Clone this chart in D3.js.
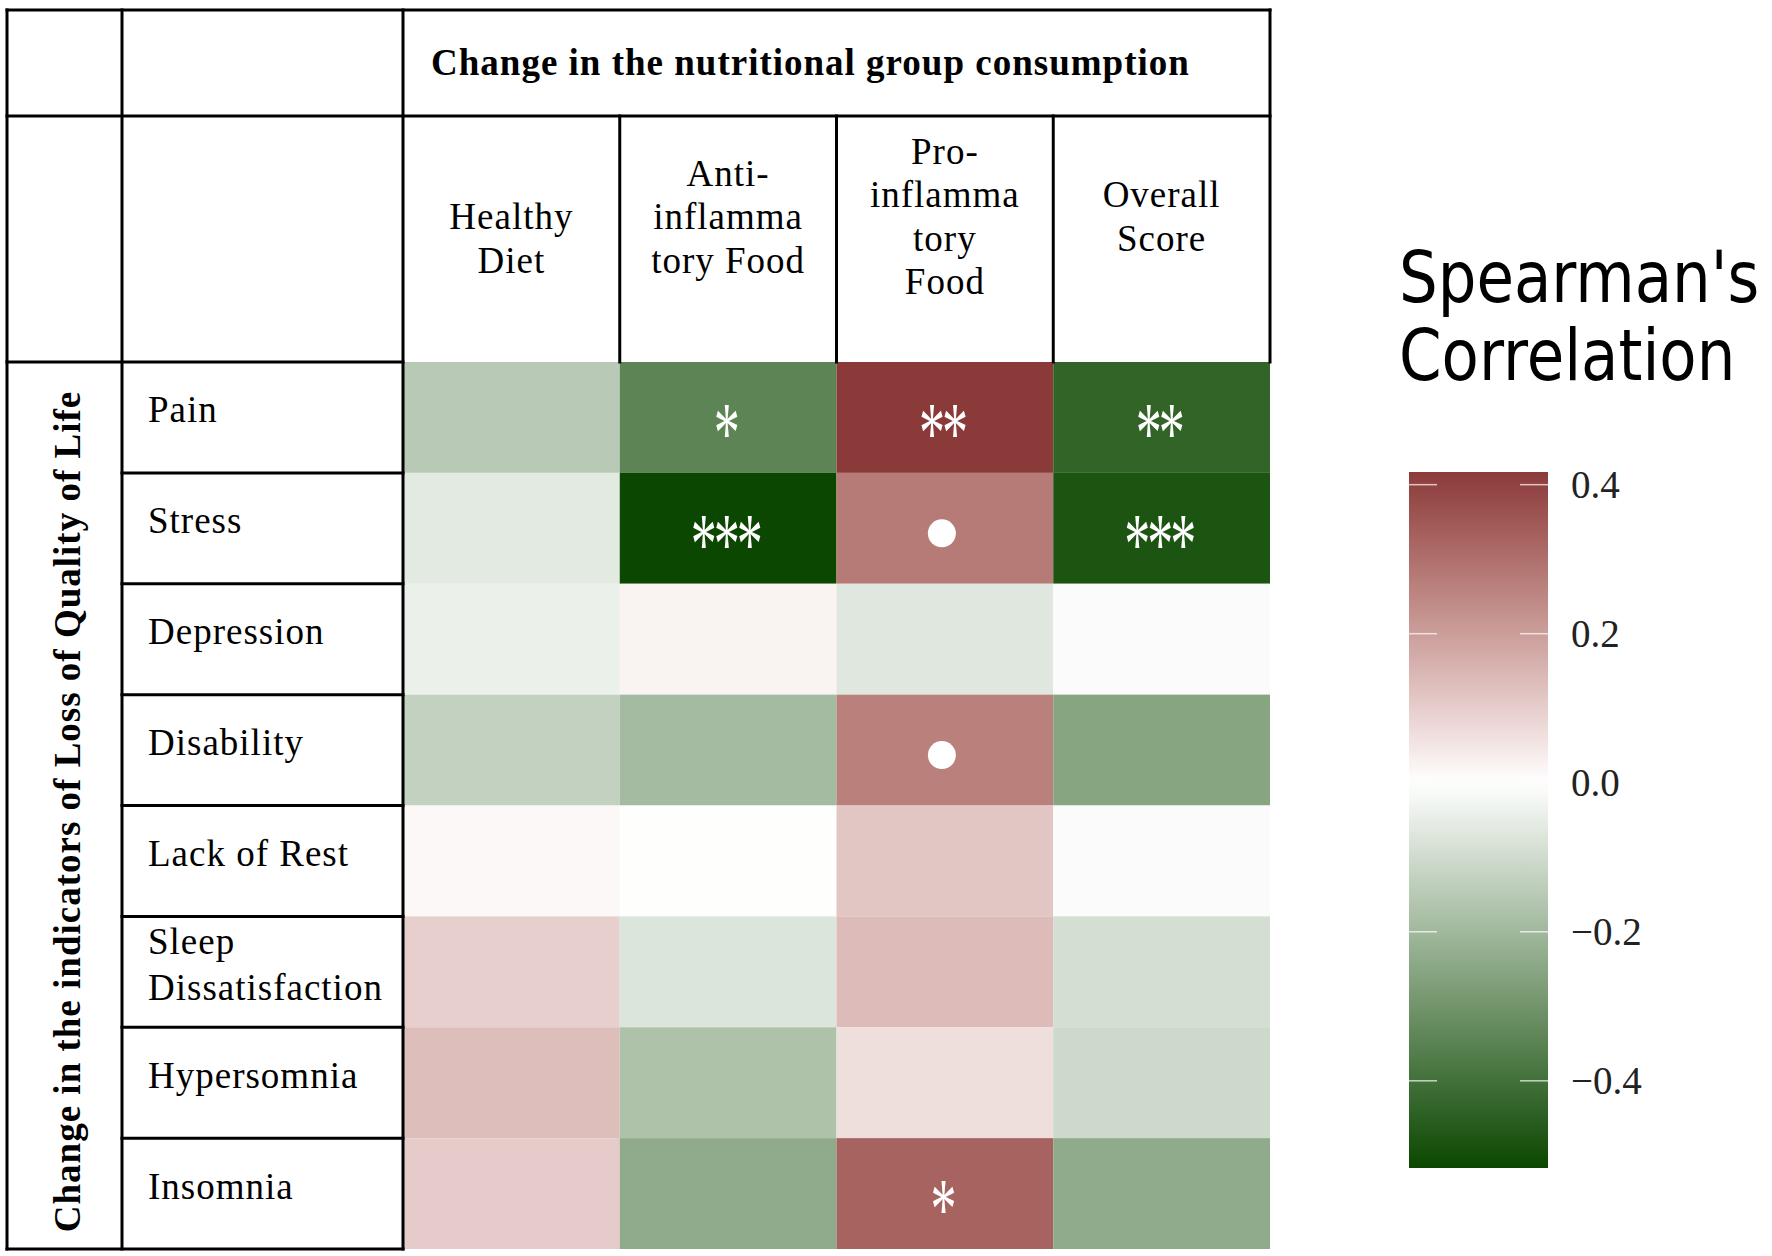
<!DOCTYPE html>
<html>
<head>
<meta charset="utf-8">
<script src="https://cdn.jsdelivr.net/npm/d3@7"></script>
<style>
  body { margin: 0; background: #fff; }
  svg { display: block; }
</style>
</head>
<body>
<svg id="chart" width="1772" height="1256"></svg>
<script>
const foodGroups = ['Healthy Diet', 'Anti-inflammatory Food', 'Pro-inflammatory Food', 'Overall Score'];
const foodHeaderLines = [['', 'Healthy', 'Diet'], ['Anti-', 'inflamma', 'tory Food'], ['Pro-', 'inflamma', 'tory', 'Food'], ['Overall', 'Score']];
const indicators = ['Pain', 'Stress', 'Depression', 'Disability', 'Lack of Rest', 'Sleep Dissatisfaction', 'Hypersomnia', 'Insomnia'];
const indicatorLines = [['Pain'], ['Stress'], ['Depression'], ['Disability'], ['Lack of Rest'], ['Sleep', 'Dissatisfaction'], ['Hypersomnia'], ['Insomnia']];

// Spearman's rho, one array per food group, in indicator order
const healthyDiet = [-0.15, -0.059, -0.041, -0.127, 0.015, 0.098, 0.133, 0.104];
const antiInflammatory = [-0.346, -0.517, 0.024, -0.19, 0.003, -0.074, -0.172, -0.235];
const proInflammatory = [0.417, 0.275, -0.067, 0.265, 0.117, 0.138, 0.067, 0.327];
const overallScore = [-0.435, -0.48, -0.01, -0.253, -0.01, -0.092, -0.107, -0.235];

// significance marks
const sigHealthy = ['', '', '', '', '', '', '', ''];
const sigAnti = ['*', '***', '', '', '', '', '', ''];
const sigPro = ['**', '•', '', '•', '', '', '', '*'];
const sigOverall = ['**', '***', '', '', '', '', '', ''];

const legendTicks = [-0.4, -0.2, 0, 0.2, 0.4];
const columnTitle = 'Change in the nutritional group consumption';
const rowTitle = 'Change in the indicators of Loss of Quality of Life';
const legendTitle = ["Spearman's", 'Correlation'];

const series = [healthyDiet, antiInflammatory, proInflammatory, overallScore];
const sigs = [sigHealthy, sigAnti, sigPro, sigOverall];

const cells = foodGroups.flatMap((group, j) => indicators.map((ind, i) => ({
    group, ind, value: series[j][i], sig: sigs[j][i]
})));

const serif = "'Liberation Serif', 'Times New Roman', serif";
const frame = {left: 7, split: 122, top: 10, headBottom: 116};

const svg = d3.select('#chart');

const x = d3.scaleBand().domain(foodGroups).range([403, 1270]);
const y = d3.scaleBand().domain(indicators).range([362, 1249]);

const [vMin, vMax] = d3.extent(cells, d => d.value);
// negative side blends in rgb, positive side in lab
const greens = d3.scaleLinear().domain([vMin, 0]).range(['#0b4700', '#ffffff']).interpolate(d3.interpolateRgb);
const reds = d3.scaleLinear().domain([0, vMax]).range(['#ffffff', '#8b3a3a']).interpolate(d3.interpolateLab);
const color = v => v < 0 ? greens(v) : reds(v);

// heatmap tiles
svg.append('g')
    .selectAll('rect')
    .data(cells)
    .join('rect')
        .attr('x', d => x(d.group))
        .attr('y', d => y(d.ind))
        .attr('width', x.bandwidth())
        .attr('height', y.bandwidth())
        .attr('fill', d => color(d.value));

// significance marks
const marks = svg.append('g').selectAll('g')
    .data(cells.filter(d => d.sig !== ''))
    .join('g')
        .attr('transform', d => `translate(${x(d.group) + x.bandwidth() / 2 - 3}, ${y(d.ind) + y.bandwidth() / 2 + 5})`);

marks.filter(d => d.sig === '•')
    .append('circle')
        .attr('r', 14)
        .attr('fill', '#fff');

marks.filter(d => d.sig !== '•')
    .append('g')
        .attr('transform', 'scale(1,1.65)')
    .append('text')
        .attr('y', 24)
        .attr('text-anchor', 'middle')
        .attr('fill', '#fff')
        .attr('font-family', serif)
        .attr('font-size', 52)
        .attr('letter-spacing', -3)
        .text(d => d.sig);

// table grid
const x0 = x.range()[0], x1 = x.range()[1];
const y0 = y.range()[0], y1 = y.range()[1];
const segments = [
    [frame.left, frame.top, x1, frame.top],
    [frame.left, frame.headBottom, x1, frame.headBottom],
    [frame.left, y0, x0, y0],
    [frame.left, y1, x0, y1],
    [frame.left, frame.top, frame.left, y1],
    [frame.split, frame.top, frame.split, y1],
    [x0, frame.top, x0, y1],
    [x1, frame.top, x1, y0],
    ...foodGroups.slice(1).map(g => [x(g), frame.headBottom, x(g), y0]),
    ...indicators.slice(1).map(r => [frame.split, y(r), x0, y(r)])
];

svg.append('g')
    .selectAll('line')
    .data(segments)
    .join('line')
        .attr('x1', d => d[0]).attr('y1', d => d[1])
        .attr('x2', d => d[2]).attr('y2', d => d[3])
        .attr('stroke', '#000')
        .attr('stroke-width', 3)
        .attr('stroke-linecap', 'square');

// titles
svg.append('text')
    .attr('x', 431)
    .attr('y', 75)
    .attr('font-family', serif)
    .attr('font-weight', 'bold')
    .attr('font-size', 37)
    .attr('letter-spacing', 1)
    .text(columnTitle);

svg.append('text')
    .attr('transform', `translate(80, ${(y0 + y1) / 2 + 6}) rotate(-90)`)
    .attr('text-anchor', 'middle')
    .attr('font-family', serif)
    .attr('font-weight', 'bold')
    .attr('font-size', 37)
    .attr('letter-spacing', 1)
    .text(rowTitle);

// column headers
const lineH = 43.5;
const headCenter = 217;
svg.append('g')
    .selectAll('text')
    .data(foodGroups)
    .join('text')
        .attr('text-anchor', 'middle')
        .attr('font-family', serif)
        .attr('font-size', 37)
        .attr('letter-spacing', 1)
        .each(function (g, j) {
            const lines = foodHeaderLines[j];
            const first = headCenter - (lines.length - 1) / 2 * lineH + 12;
            d3.select(this).selectAll('tspan')
                .data(lines)
                .join('tspan')
                    .attr('x', x(g) + x.bandwidth() / 2)
                    .attr('y', (l, k) => first + k * lineH)
                    .text(l => l);
        });

// row labels
svg.append('g')
    .selectAll('text')
    .data(indicators)
    .join('text')
        .attr('font-family', serif)
        .attr('font-size', 37)
        .attr('letter-spacing', 1)
        .each(function (r, i) {
            const lines = indicatorLines[i];
            const first = y(r) + y.bandwidth() / 2 - (lines.length - 1) / 2 * 46 + 5;
            d3.select(this).selectAll('tspan')
                .data(lines)
                .join('tspan')
                    .attr('x', 148)
                    .attr('y', (l, k) => first + k * 46)
                    .text(l => l);
        });

// legend
const legend = {x: 1409, width: 139, top: 472, bottom: 1168};
const ly = d3.scaleLinear().domain([vMin, vMax]).range([legend.bottom, legend.top]);

const grad = svg.append('defs').append('linearGradient')
    .attr('id', 'rho-grad')
    .attr('x1', 0).attr('y1', 1).attr('x2', 0).attr('y2', 0);
grad.selectAll('stop')
    .data(d3.range(0, 1.0001, 0.02))
    .join('stop')
        .attr('offset', t => t)
        .attr('stop-color', t => color(vMin + t * (vMax - vMin)));

svg.append('rect')
    .attr('x', legend.x)
    .attr('y', legend.top)
    .attr('width', legend.width)
    .attr('height', legend.bottom - legend.top)
    .attr('fill', 'url(#rho-grad)');

const tickMarks = svg.append('g');
legendTicks.forEach(t => {
    [[legend.x, legend.x + 28], [legend.x + legend.width - 28, legend.x + legend.width]].forEach(([a, b]) => {
        tickMarks.append('line')
            .attr('x1', a).attr('x2', b)
            .attr('y1', ly(t)).attr('y2', ly(t))
            .attr('stroke', '#fff')
            .attr('stroke-opacity', 0.7)
            .attr('stroke-width', 1.5);
    });
});

const axis = svg.append('g')
    .attr('transform', `translate(1571, 0)`)
    .call(d3.axisRight(ly).tickValues(legendTicks).tickFormat(d3.format('.1f')).tickSize(0).tickPadding(0));
axis.select('.domain').remove();
axis.selectAll('text')
    .attr('font-family', serif)
    .attr('font-size', 39)
    .attr('fill', '#222');

svg.append('g')
    .selectAll('text')
    .data(legendTitle)
    .join('text')
        .attr('transform', (d, i) => `translate(1399, ${302 + i * 78}) scale(1, 1.17)`)
        .attr('font-family', "'DejaVu Sans', sans-serif")
        .attr('font-size', 61)
        .text(d => d);
</script>
</body>
</html>
